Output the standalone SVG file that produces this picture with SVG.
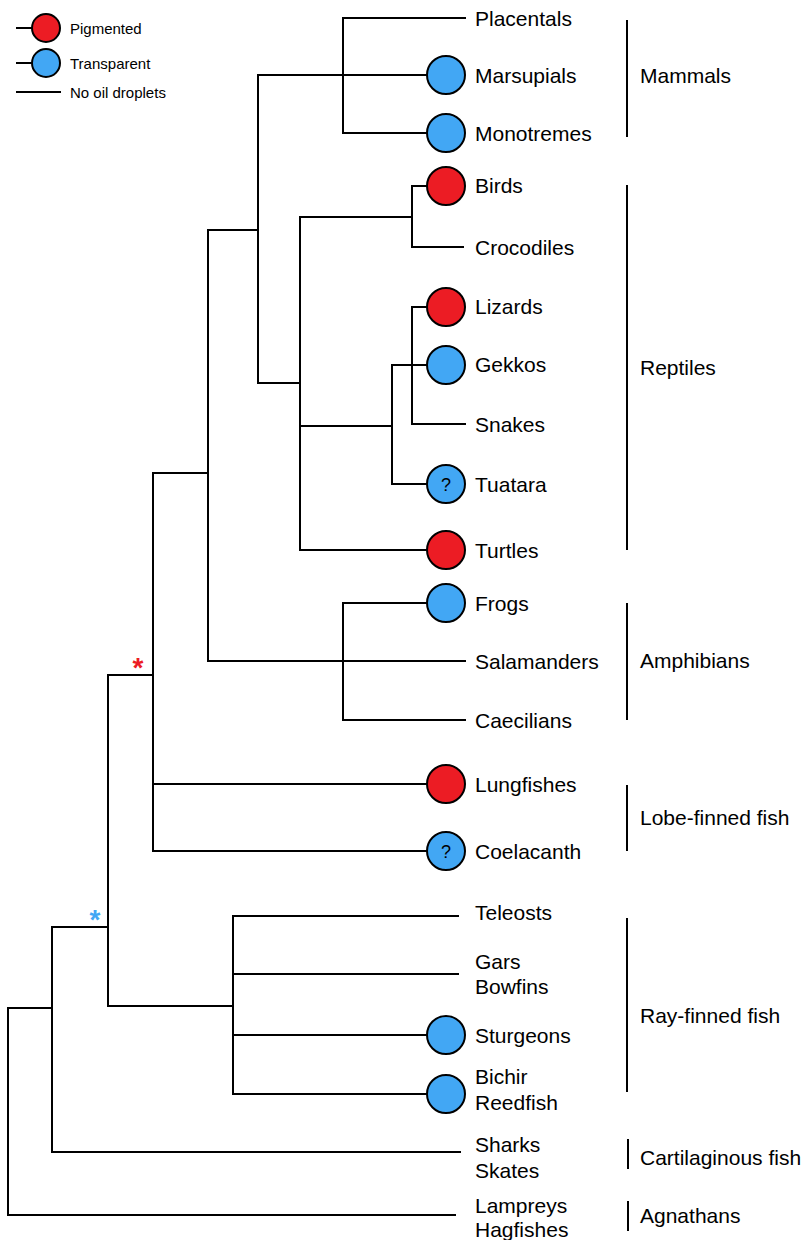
<svg xmlns="http://www.w3.org/2000/svg" width="806" height="1240" viewBox="0 0 806 1240">
<style>
.e{stroke:#000;stroke-width:2;fill:none;stroke-linecap:square}
.b{stroke:#000;stroke-width:2;fill:none}
.r{fill:#ec1c24;stroke:#000;stroke-width:2}
.u{fill:#42a7f4;stroke:#000;stroke-width:2}
text{font-family:"Liberation Sans",Arial,sans-serif;fill:#000}
.t{font-size:21px}
.l{font-size:15px}
.q{font-size:18px;text-anchor:middle}
.s{font-size:28px;font-weight:bold;text-anchor:middle}
</style>
<rect width="806" height="1240" fill="#fff"/>
<g id="legend">
<line class="e" x1="17" y1="28" x2="32" y2="28"/>
<circle class="r" cx="46" cy="28" r="14"/>
<text class="l" x="70" y="33.5">Pigmented</text>
<line class="e" x1="17" y1="63" x2="32" y2="63"/>
<circle class="u" cx="46" cy="63" r="14"/>
<text class="l" x="70" y="68.5">Transparent</text>
<line class="e" x1="17" y1="92" x2="60" y2="92"/>
<text class="l" x="70" y="97.5">No oil droplets</text>
</g>
<g id="connectors">
<path class="e" d="M8,1008V1215H455M8,1008H52"/>
<path class="e" d="M52,927V1152H460M52,927H108"/>
<path class="e" d="M108,675V1006H233M108,675H153"/>
<path class="e" d="M153,473V851H427M153,784H427M153,473H208"/>
<path class="e" d="M208,230V661H465M208,230H258"/>
<path class="e" d="M258,75V383H300M258,75H427"/>
<path class="e" d="M343,18V133H427M343,18H465"/>
<path class="e" d="M300,217V550H427M300,217H412M300,426H392"/>
<path class="e" d="M412,186V247H463M412,186H427"/>
<path class="e" d="M412,307V424H465M412,307H427"/>
<path class="e" d="M392,365V484H427M392,365H427"/>
<path class="e" d="M343,603V720H465M343,603H427"/>
<path class="e" d="M233,916V1094H427M233,916H458M233,974H458M233,1035H427"/>
</g>
<g id="asterisks">
<text class="s" x="138" y="677" style="fill:#ec1c24">*</text>
<text class="s" x="95" y="929" style="fill:#42a7f4">*</text>
</g>
<g id="placentals"><text class="t" x="475" y="26">Placentals</text></g>
<g id="marsupials"><circle class="u" cx="446" cy="75" r="19"/><text class="t" x="475" y="83">Marsupials</text></g>
<g id="monotremes"><circle class="u" cx="446" cy="133" r="19"/><text class="t" x="475" y="141">Monotremes</text></g>
<g id="birds"><circle class="r" cx="446" cy="186" r="19"/><text class="t" x="475" y="193">Birds</text></g>
<g id="crocodiles"><text class="t" x="475" y="255">Crocodiles</text></g>
<g id="lizards"><circle class="r" cx="446" cy="307" r="19"/><text class="t" x="475" y="314">Lizards</text></g>
<g id="gekkos"><circle class="u" cx="446" cy="365" r="19"/><text class="t" x="475" y="372">Gekkos</text></g>
<g id="snakes"><text class="t" x="475" y="432">Snakes</text></g>
<g id="tuatara"><circle class="u" cx="446" cy="484" r="19"/><text class="q" x="446" y="490.5">?</text><text class="t" x="475" y="492">Tuatara</text></g>
<g id="turtles"><circle class="r" cx="446" cy="550" r="19"/><text class="t" x="475" y="558">Turtles</text></g>
<g id="frogs"><circle class="u" cx="446" cy="603" r="19"/><text class="t" x="475" y="611">Frogs</text></g>
<g id="salamanders"><text class="t" x="475" y="669">Salamanders</text></g>
<g id="caecilians"><text class="t" x="475" y="728">Caecilians</text></g>
<g id="lungfishes"><circle class="r" cx="446" cy="784" r="19"/><text class="t" x="475" y="792">Lungfishes</text></g>
<g id="coelacanth"><circle class="u" cx="446" cy="851" r="19"/><text class="q" x="446" y="857.5">?</text><text class="t" x="475" y="859">Coelacanth</text></g>
<g id="teleosts"><text class="t" x="475" y="920">Teleosts</text></g>
<g id="gars"><text class="t" x="475" y="969">Gars</text><text class="t" x="475" y="994">Bowfins</text></g>
<g id="sturgeons"><circle class="u" cx="446" cy="1035" r="19"/><text class="t" x="475" y="1043">Sturgeons</text></g>
<g id="bichir"><circle class="u" cx="446" cy="1094" r="19"/><text class="t" x="475" y="1084">Bichir</text><text class="t" x="475" y="1110">Reedfish</text></g>
<g id="sharks"><text class="t" x="475" y="1152">Sharks</text><text class="t" x="475" y="1178">Skates</text></g>
<g id="lampreys"><text class="t" x="475" y="1213">Lampreys</text><text class="t" x="475" y="1237">Hagfishes</text></g>
<g id="mammals"><line class="b" x1="627" y1="20" x2="627" y2="137"/><text class="t" x="640" y="83">Mammals</text></g>
<g id="reptiles"><line class="b" x1="627" y1="185" x2="627" y2="550"/><text class="t" x="640" y="375">Reptiles</text></g>
<g id="amphibians"><line class="b" x1="627" y1="603" x2="627" y2="720"/><text class="t" x="640" y="668">Amphibians</text></g>
<g id="lobe-finned"><line class="b" x1="627" y1="785" x2="627" y2="851"/><text class="t" x="640" y="825">Lobe-finned fish</text></g>
<g id="ray-finned"><line class="b" x1="627" y1="918" x2="627" y2="1092"/><text class="t" x="640" y="1023">Ray-finned fish</text></g>
<g id="cartilaginous"><line class="b" x1="628" y1="1139" x2="628" y2="1169"/><text class="t" x="640" y="1165">Cartilaginous fish</text></g>
<g id="agnathans"><line class="b" x1="628" y1="1201" x2="628" y2="1231"/><text class="t" x="640" y="1223">Agnathans</text></g>
</svg>
